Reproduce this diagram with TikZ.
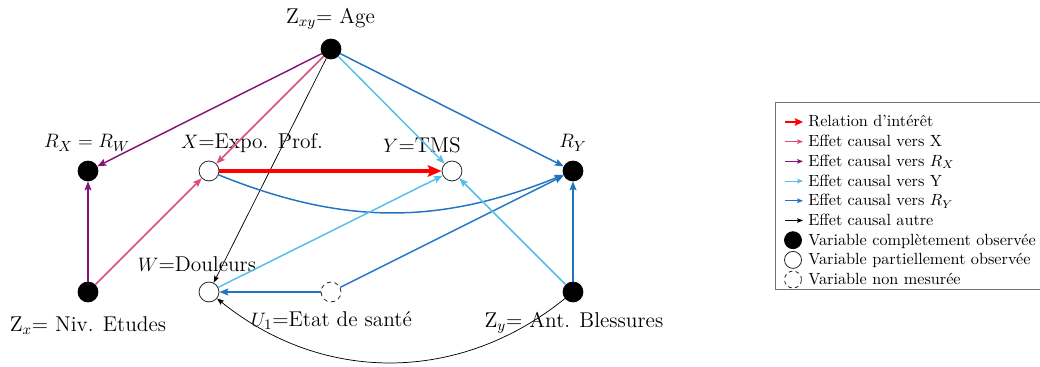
\documentclass[tikz,border=0pt]{standalone}
\usetikzlibrary{arrows.meta}
\definecolor{cpink}{RGB}{214,80,125}
\definecolor{cpurple}{RGB}{135,20,125}
\definecolor{clight}{RGB}{85,190,235}
\definecolor{cblue}{RGB}{35,115,195}
\begin{document}
\begin{tikzpicture}[x=0.617pt,y=0.617pt,
  full/.style={circle,fill=black,draw=black,line width=0.5pt,minimum size=12.3pt,inner sep=0pt},
  part/.style={circle,fill=white,draw=black!85,line width=0.5pt,minimum size=12.3pt,inner sep=0pt},
  unm/.style={circle,fill=white,draw=black!85,line width=0.5pt,dash pattern=on 2.6pt off 2.2pt,minimum size=12.3pt,inner sep=0pt},
  lab/.style={anchor=base,inner sep=0pt,font=\fontsize{13.2}{15}\selectfont},
  legtxt/.style={anchor=base west,inner sep=0pt,font=\fontsize{10}{12}\selectfont},
  ctip/.style={-{Stealth[length=5.5pt,width=4.3pt,inset=1pt]}},
  pinkedge/.style={ctip,draw=cpink,line width=0.9pt},
  purpleedge/.style={ctip,draw=cpurple,line width=0.9pt},
  lightedge/.style={ctip,draw=clight,line width=0.9pt},
  blueedge/.style={ctip,draw=cblue,line width=0.9pt},
  blackedge/.style={-{Stealth[length=4.3pt,width=3.2pt,inset=0.8pt]},draw=black,line width=0.45pt},
  rededge/.style={-{Stealth[length=8.5pt,width=7pt,inset=1.5pt]},draw=red,line width=2.2pt},
  legsmall/.style={-{Stealth[length=3.6pt,width=2.8pt,inset=0.6pt]},line width=0.6pt},
  legred/.style={-{Stealth[length=5pt,width=4.6pt,inset=0.8pt]},draw=red,line width=1.5pt},
  legfull/.style={circle,fill=black,draw=black,line width=0.5pt,minimum size=10.5pt,inner sep=0pt},
  legpart/.style={circle,fill=white,draw=black!85,line width=0.5pt,minimum size=10.5pt,inner sep=0pt},
  legunm/.style={circle,fill=white,draw=black!85,line width=0.5pt,dash pattern=on 2.3pt off 2pt,minimum size=10.5pt,inner sep=0pt}
]
\useasboundingbox (0,0) rectangle (1040,367);

% nodes
\node[full] (Zxy) at (331,318) {};
\node[full] (Rx) at (88,196) {};
\node[part] (X) at (209,196) {};
\node[part] (Y) at (452,196) {};
\node[full] (RY) at (573,196) {};
\node[full] (Zx) at (88,75) {};
\node[part] (W) at (209,75) {};
\node[unm] (U1) at (331,75) {};
\node[full] (Zy) at (573,75) {};

% labels
\node[lab] (lZxy) at (330.5,343) {Z$_{xy}$= Age};
\node[lab] (lRx) at (87,219) {$R_X = R_W$};
\node[lab] (lX) at (252,218) {$X$=Expo. Prof.};
\node[lab] (lY) at (422,214) {$Y$=TMS};
\node[lab] (lRY) at (573,219) {$R_Y$};
\node[lab] (lW) at (197,95) {$W$=Douleurs};
\node[lab] (lU1) at (331.5,40) {$U_1$=Etat de santé};
\node[lab] (lZx) at (88,35) {Z$_x$= Niv. Etudes};
\node[lab] (lZy) at (574,39) {Z$_y$= Ant. Blessures};

% edges
\draw[purpleedge] (Zxy) -- (Rx);
\draw[pinkedge] (Zxy) -- (X);
\draw[blackedge] (Zxy) -- (W);
\draw[lightedge] (Zxy) -- (Y);
\draw[blueedge] (Zxy) -- (RY);
\draw[rededge] (X) -- (Y);
\draw[blueedge] (X) to[bend right=22] (RY);
\draw[purpleedge] (Zx) -- (Rx);
\draw[pinkedge] (Zx) -- (X);
\draw[lightedge] (W) -- (Y);
\draw[blueedge] (U1) -- (W);
\draw[blueedge] (U1) -- (RY);
\draw[lightedge] (Zy) -- (Y);
\draw[blueedge] (Zy) -- (RY);
\draw[blackedge] (Zy) to[bend left=39] (W);

% legend
\draw[draw=black!55,line width=0.5pt] (1040,265) -- (775,265) -- (775,78) -- (1040,78);
\foreach \i/\yy in {1/245,2/225.3,3/205.6,4/185.9,5/166.2,6/146.5}{
  \coordinate (la\i) at (785,\yy);
  \coordinate (lb\i) at (803,\yy);
}
\draw[legred] (la1) -- (lb1);
\draw[legsmall,draw=cpink] (la2) -- (lb2);
\draw[legsmall,draw=cpurple] (la3) -- (lb3);
\draw[legsmall,draw=clight] (la4) -- (lb4);
\draw[legsmall,draw=cblue] (la5) -- (lb5);
\draw[legsmall,draw=black,line width=0.45pt] (la6) -- (lb6);
\node[legfull] (lc7) at (793,126.8) {};
\node[legpart] (lc8) at (793,107.1) {};
\node[legunm] (lc9) at (793,87.4) {};
\node[legtxt] (t1) at (808,240) {Relation d’intérêt};
\node[legtxt] (t2) at (808,220.3) {Effet causal vers X};
\node[legtxt] (t3) at (808,200.6) {Effet causal vers $R_X$};
\node[legtxt] (t4) at (808,180.9) {Effet causal vers Y};
\node[legtxt] (t5) at (808,161.2) {Effet causal vers $R_Y$};
\node[legtxt] (t6) at (808,141.5) {Effet causal autre};
\node[legtxt] (t7) at (808,121.8) {Variable complètement observée};
\node[legtxt] (t8) at (808,102.1) {Variable partiellement observée};
\node[legtxt] (t9) at (808,82.4) {Variable non mesurée};
\end{tikzpicture}
\end{document}
